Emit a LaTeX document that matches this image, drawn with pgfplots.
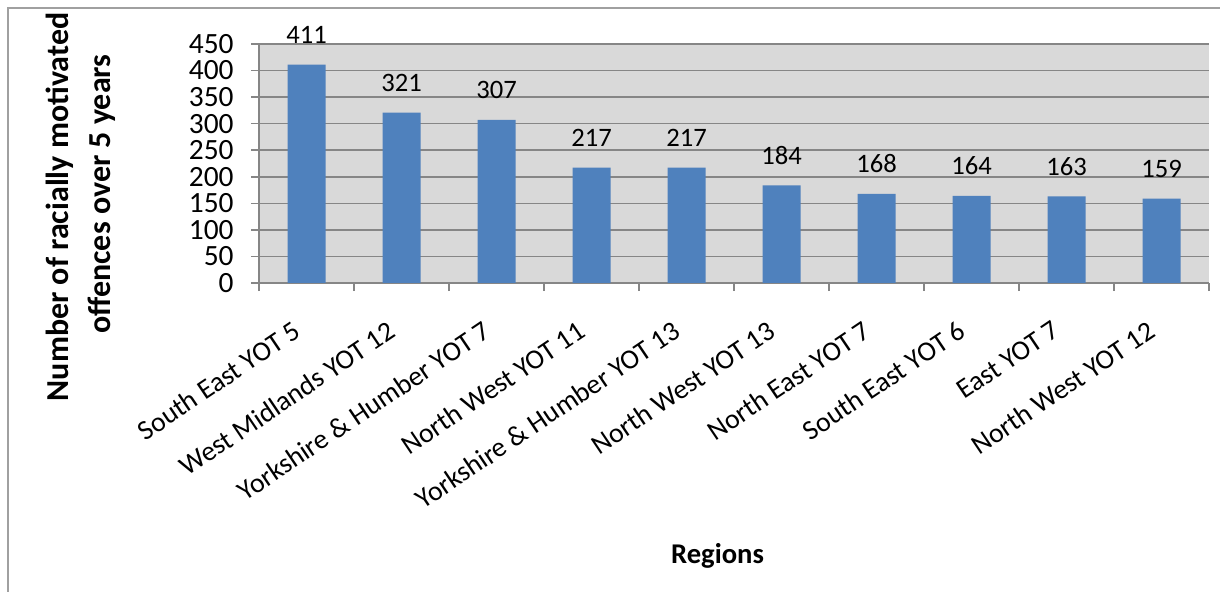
\documentclass[border=0pt]{standalone}
\usepackage{pgfplots}
\pgfplotsset{compat=1.18}
\usepackage{fontspec}
\setmainfont{Carlito}
\definecolor{barblue}{HTML}{4F81BD}
\definecolor{plotbg}{HTML}{D9D9D9}
\definecolor{gridgray}{HTML}{868686}
\definecolor{framegray}{HTML}{A0A0A0}
\begin{document}
\begin{tikzpicture}
\useasboundingbox (0,0) rectangle (610pt,-296pt);
\draw[framegray, line width=0.8pt] (4pt,-300pt) -- (4pt,-4pt) -- (615pt,-4pt);
\begin{axis}[
  at={(129.5pt,-141.5pt)}, anchor=south west,
  scale only axis, width=475pt, height=119.5pt,
  xmin=-0.5, xmax=9.5, ymin=0, ymax=450,
  ytick={0,50,...,450},
  xtick={0,...,9},
  xticklabels={South East YOT 5, West Midlands YOT 12, Yorkshire \& Humber YOT 7, North West YOT 11, Yorkshire \& Humber YOT 13, North West YOT 13, North East YOT 7, South East YOT 6, East YOT 7, North West YOT 12},
  minor xtick={-0.5,0.5,...,9.5},
  major x tick style={draw=none},
  minor x tick style={gridgray, line width=0.8pt},
  major y tick style={gridgray, line width=0.8pt},
  tick align=outside,
  major tick length=4pt, minor tick length=4pt,
  axis x line*=bottom, axis y line*=left,
  axis line style={gridgray, line width=0.8pt},
  axis background/.style={fill=plotbg},
  ymajorgrids, grid style={gridgray, line width=0.8pt},
  /pgf/number format/assume math mode=true,
  yticklabel style={font=\fontsize{14.7}{17}\selectfont, anchor=east, inner sep=0pt, xshift=-8.5pt},
  xticklabel style={font=\fontsize{13.9}{16}\selectfont, xshift=-7.5pt, yshift=-14pt, rotate=34, anchor=north east, inner sep=0pt},
  ybar, bar width=19pt,
  nodes near coords,
  every node near coord/.append style={font=\fontsize{13.3}{16}\selectfont, anchor=base, yshift=10.5pt, inner sep=0pt, text=black},
  clip=false,
]
\addplot[draw=none, fill=barblue] coordinates {(0,411) (1,321) (2,307) (3,217) (4,217) (5,184) (6,168) (7,164) (8,163) (9,159)};
\end{axis}
\node[rotate=90, anchor=base, font=\bfseries\fontsize{16}{21}\selectfont] at (34pt,-103.5pt) {Number of racially motivated};
\node[rotate=90, anchor=base, font=\bfseries\fontsize{16}{21}\selectfont] at (55pt,-97pt) {offences over 5 years};
\node[anchor=base, font=\bfseries\fontsize{14.3}{18}\selectfont] at (358.75pt,-281.5pt) {Regions};
\end{tikzpicture}
\end{document}
